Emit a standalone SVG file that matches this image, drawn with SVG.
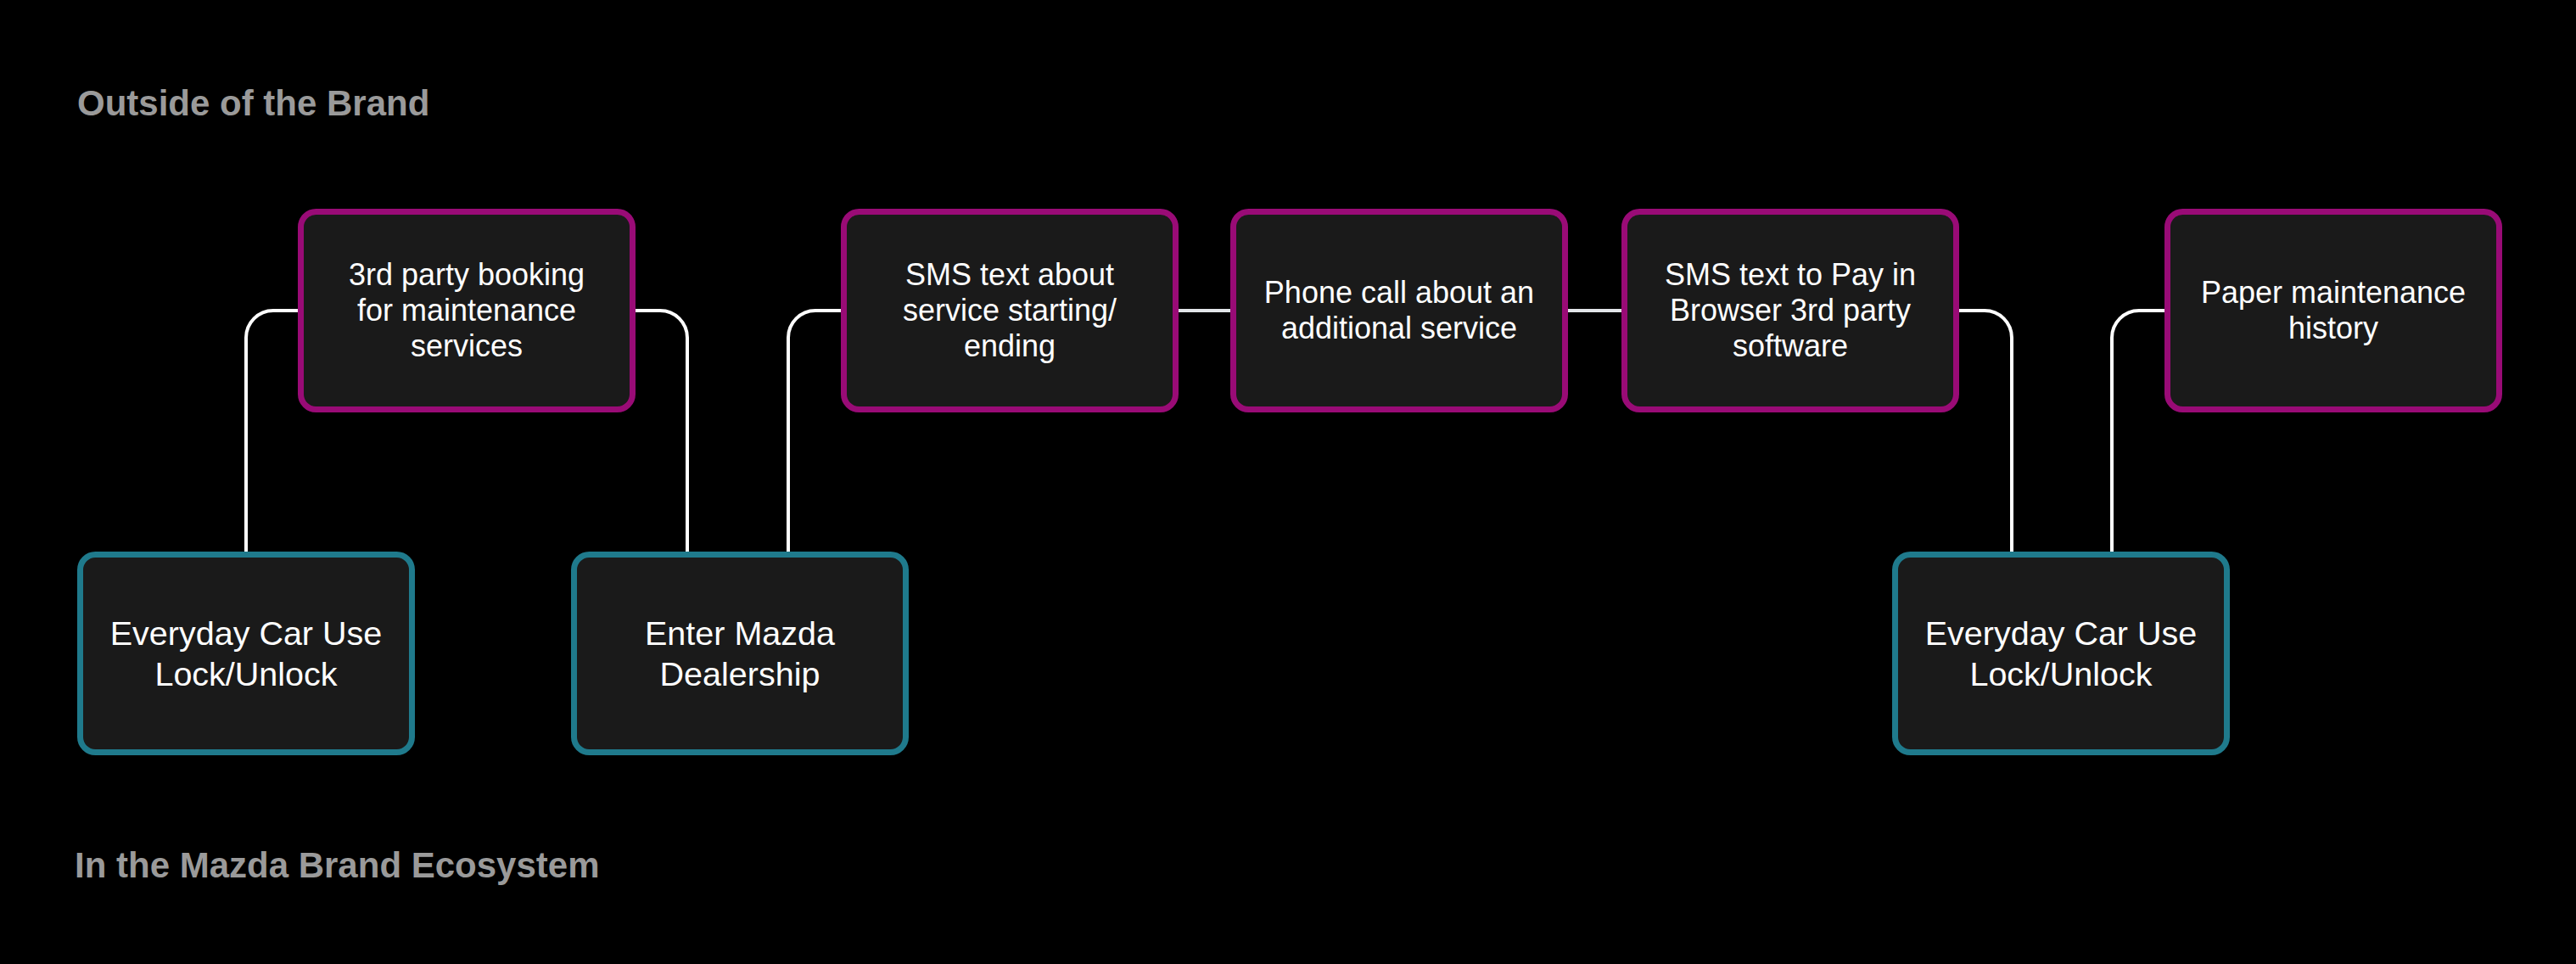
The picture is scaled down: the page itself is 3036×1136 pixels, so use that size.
<svg xmlns="http://www.w3.org/2000/svg" width="3036" height="1136" viewBox="0 0 3036 1136">
<style>
.bg{fill:#000}
.box{fill:#1a1a1a;stroke-width:7}
.out{stroke:#990b76}
.in{stroke:#1f7a8c}
.t{font-family:"Liberation Sans",Arial,Helvetica,sans-serif;fill:#fff;text-anchor:middle}
.ts{font-size:36px}
.tl{font-size:39.5px}
.h{font-family:"Liberation Sans",Arial,Helvetica,sans-serif;font-weight:bold;font-size:42px;fill:#9a9a9a}
.c{fill:none;stroke:#fff;stroke-width:4}
.cg{fill:none;stroke:#e2e5e8;stroke-width:4}
</style>
<rect class="bg" x="0" y="0" width="3036" height="1136"/>
<text class="h" x="91" y="136">Outside of the Brand</text>
<text class="h" x="88" y="1034">In the Mazda Brand Ecosystem</text>
<g id="connectors">
<path class="c" d="M290 650 V398 A32 32 0 0 1 322 366 H352"/>
<path class="c" d="M748 366 H778 A32 32 0 0 1 810 398 V650"/>
<path class="c" d="M929 650 V398 A32 32 0 0 1 961 366 H992"/>
<path class="cg" d="M1389 366 H1451"/>
<path class="cg" d="M1848 366 H1912"/>
<path class="c" d="M2307 366 H2339 A32 32 0 0 1 2371 398 V650"/>
<path class="c" d="M2489 650 V398 A32 32 0 0 1 2521 366 H2552"/>
</g>
<g id="booking">
<rect class="box out" x="354.5" y="249.5" width="391" height="233" rx="18"/>
<text class="t ts" x="550" y="336">3rd party booking</text>
<text class="t ts" x="550" y="378">for maintenance</text>
<text class="t ts" x="550" y="420">services</text>
</g>
<g id="sms1">
<rect class="box out" x="994.5" y="249.5" width="391" height="233" rx="18"/>
<text class="t ts" x="1190" y="336">SMS text about</text>
<text class="t ts" x="1190" y="378">service starting/</text>
<text class="t ts" x="1190" y="420">ending</text>
</g>
<g id="phone">
<rect class="box out" x="1453.5" y="249.5" width="391" height="233" rx="18"/>
<text class="t ts" x="1649" y="357">Phone call about an</text>
<text class="t ts" x="1649" y="399">additional service</text>
</g>
<g id="sms2">
<rect class="box out" x="1914.5" y="249.5" width="391" height="233" rx="18"/>
<text class="t ts" x="2110" y="336">SMS text to Pay in</text>
<text class="t ts" x="2110" y="378">Browser 3rd party</text>
<text class="t ts" x="2110" y="420">software</text>
</g>
<g id="paper">
<rect class="box out" x="2554.5" y="249.5" width="391" height="233" rx="18"/>
<text class="t ts" x="2750" y="357">Paper maintenance</text>
<text class="t ts" x="2750" y="399">history</text>
</g>
<g id="everyday1">
<rect class="box in" x="94.5" y="653.5" width="391" height="233" rx="18"/>
<text class="t tl" x="290" y="760">Everyday Car Use</text>
<text class="t tl" x="290" y="808">Lock/Unlock</text>
</g>
<g id="dealership">
<rect class="box in" x="676.5" y="653.5" width="391" height="233" rx="18"/>
<text class="t tl" x="872" y="760">Enter Mazda</text>
<text class="t tl" x="872" y="808">Dealership</text>
</g>
<g id="everyday2">
<rect class="box in" x="2233.5" y="653.5" width="391" height="233" rx="18"/>
<text class="t tl" x="2429" y="760">Everyday Car Use</text>
<text class="t tl" x="2429" y="808">Lock/Unlock</text>
</g>
</svg>
